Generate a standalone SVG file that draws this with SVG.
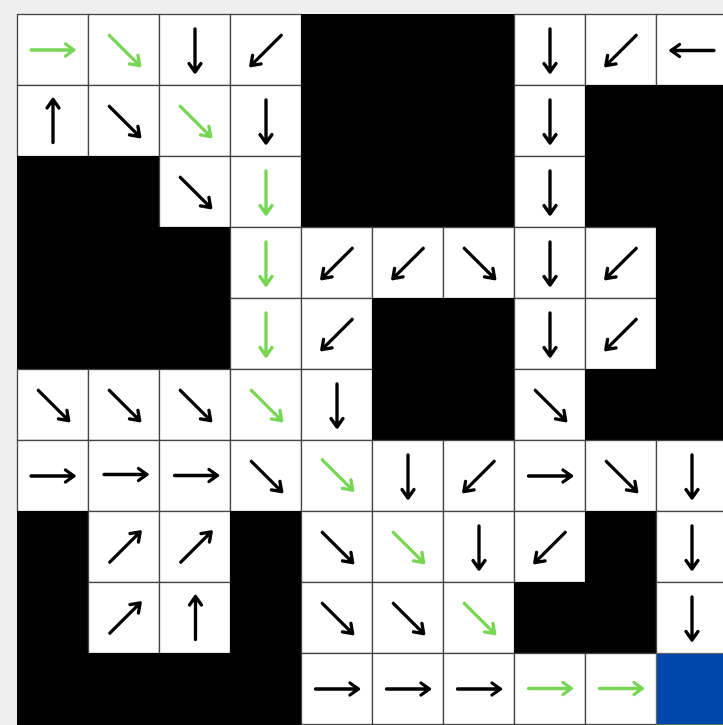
<svg xmlns="http://www.w3.org/2000/svg" xmlns:xlink="http://www.w3.org/1999/xlink" width="723" height="725" viewBox="0 0 723 725">
<style>
.w{fill:#fff;stroke:#444;stroke-width:1.3}
.b{fill:#000;stroke:#000;stroke-width:1}
.t{fill:#0047ab;stroke:#666;stroke-width:1}
.k{stroke:#000;fill:none;stroke-width:3.3;stroke-linecap:round;stroke-linejoin:round}
.g{stroke:#78d655;fill:none;stroke-width:3.3;stroke-linecap:round;stroke-linejoin:round}
</style>
<defs>
<path id="a" d="M-21.5 0H21.5M13 -6L21.5 0L13 6"/>
</defs>
<rect x="0" y="0" width="723" height="725" fill="#efefef"/>
<g id="grid">
<!-- Row 0 -->
<g id="c00" transform="translate(17.5 14.5)"><rect class="w" width="71" height="71"/><use href="#a" class="g" transform="translate(35 35.5) rotate(0)"/></g>
<g id="c01" transform="translate(88.5 14.5)"><rect class="w" width="71" height="71"/><use href="#a" class="g" transform="translate(36 36) rotate(45)"/></g>
<g id="c02" transform="translate(159.5 14.5)"><rect class="w" width="71" height="71"/><use href="#a" class="k" transform="translate(35.5 36) rotate(90)"/></g>
<g id="c03" transform="translate(230.5 14.5)"><rect class="w" width="71" height="71"/><use href="#a" class="k" transform="translate(35.5 36) rotate(135)"/></g>
<g id="c04" transform="translate(301.5 14.5)"><rect class="b" width="71" height="71"/></g>
<g id="c05" transform="translate(372.5 14.5)"><rect class="b" width="71" height="71"/></g>
<g id="c06" transform="translate(443.5 14.5)"><rect class="b" width="71" height="71"/></g>
<g id="c07" transform="translate(514.5 14.5)"><rect class="w" width="71" height="71"/><use href="#a" class="k" transform="translate(35.5 36) rotate(90)"/></g>
<g id="c08" transform="translate(585.5 14.5)"><rect class="w" width="71" height="71"/><use href="#a" class="k" transform="translate(35.5 36) rotate(135)"/></g>
<g id="c09" transform="translate(656.5 14.5)"><rect class="w" width="71" height="71"/><use href="#a" class="k" transform="translate(36 36) rotate(180)"/></g>
<!-- Row 1 -->
<g id="c10" transform="translate(17.5 85.5)"><rect class="w" width="71" height="71"/><use href="#a" class="k" transform="translate(35.5 35.5) rotate(270)"/></g>
<g id="c11" transform="translate(88.5 85.5)"><rect class="w" width="71" height="71"/><use href="#a" class="k" transform="translate(36 36) rotate(45)"/></g>
<g id="c12" transform="translate(159.5 85.5)"><rect class="w" width="71" height="71"/><use href="#a" class="g" transform="translate(36 36) rotate(45)"/></g>
<g id="c13" transform="translate(230.5 85.5)"><rect class="w" width="71" height="71"/><use href="#a" class="k" transform="translate(35.5 36) rotate(90)"/></g>
<g id="c14" transform="translate(301.5 85.5)"><rect class="b" width="71" height="71"/></g>
<g id="c15" transform="translate(372.5 85.5)"><rect class="b" width="71" height="71"/></g>
<g id="c16" transform="translate(443.5 85.5)"><rect class="b" width="71" height="71"/></g>
<g id="c17" transform="translate(514.5 85.5)"><rect class="w" width="71" height="71"/><use href="#a" class="k" transform="translate(35.5 36) rotate(90)"/></g>
<g id="c18" transform="translate(585.5 85.5)"><rect class="b" width="71" height="71"/></g>
<g id="c19" transform="translate(656.5 85.5)"><rect class="b" width="71" height="71"/></g>
<!-- Row 2 -->
<g id="c20" transform="translate(17.5 156.5)"><rect class="b" width="71" height="71"/></g>
<g id="c21" transform="translate(88.5 156.5)"><rect class="b" width="71" height="71"/></g>
<g id="c22" transform="translate(159.5 156.5)"><rect class="w" width="71" height="71"/><use href="#a" class="k" transform="translate(36 36) rotate(45)"/></g>
<g id="c23" transform="translate(230.5 156.5)"><rect class="w" width="71" height="71"/><use href="#a" class="g" transform="translate(35.5 36) rotate(90)"/></g>
<g id="c24" transform="translate(301.5 156.5)"><rect class="b" width="71" height="71"/></g>
<g id="c25" transform="translate(372.5 156.5)"><rect class="b" width="71" height="71"/></g>
<g id="c26" transform="translate(443.5 156.5)"><rect class="b" width="71" height="71"/></g>
<g id="c27" transform="translate(514.5 156.5)"><rect class="w" width="71" height="71"/><use href="#a" class="k" transform="translate(35.5 36) rotate(90)"/></g>
<g id="c28" transform="translate(585.5 156.5)"><rect class="b" width="71" height="71"/></g>
<g id="c29" transform="translate(656.5 156.5)"><rect class="b" width="71" height="71"/></g>
<!-- Row 3 -->
<g id="c30" transform="translate(17.5 227.5)"><rect class="b" width="71" height="71"/></g>
<g id="c31" transform="translate(88.5 227.5)"><rect class="b" width="71" height="71"/></g>
<g id="c32" transform="translate(159.5 227.5)"><rect class="b" width="71" height="71"/></g>
<g id="c33" transform="translate(230.5 227.5)"><rect class="w" width="71" height="71"/><use href="#a" class="g" transform="translate(35.5 36) rotate(90)"/></g>
<g id="c34" transform="translate(301.5 227.5)"><rect class="w" width="71" height="71"/><use href="#a" class="k" transform="translate(35.5 36) rotate(135)"/></g>
<g id="c35" transform="translate(372.5 227.5)"><rect class="w" width="71" height="71"/><use href="#a" class="k" transform="translate(35.5 36) rotate(135)"/></g>
<g id="c36" transform="translate(443.5 227.5)"><rect class="w" width="71" height="71"/><use href="#a" class="k" transform="translate(36 36) rotate(45)"/></g>
<g id="c37" transform="translate(514.5 227.5)"><rect class="w" width="71" height="71"/><use href="#a" class="k" transform="translate(35.5 36) rotate(90)"/></g>
<g id="c38" transform="translate(585.5 227.5)"><rect class="w" width="71" height="71"/><use href="#a" class="k" transform="translate(35.5 36) rotate(135)"/></g>
<g id="c39" transform="translate(656.5 227.5)"><rect class="b" width="71" height="71"/></g>
<!-- Row 4 -->
<g id="c40" transform="translate(17.5 298.5)"><rect class="b" width="71" height="71"/></g>
<g id="c41" transform="translate(88.5 298.5)"><rect class="b" width="71" height="71"/></g>
<g id="c42" transform="translate(159.5 298.5)"><rect class="b" width="71" height="71"/></g>
<g id="c43" transform="translate(230.5 298.5)"><rect class="w" width="71" height="71"/><use href="#a" class="g" transform="translate(35.5 36) rotate(90)"/></g>
<g id="c44" transform="translate(301.5 298.5)"><rect class="w" width="71" height="71"/><use href="#a" class="k" transform="translate(35.5 36) rotate(135)"/></g>
<g id="c45" transform="translate(372.5 298.5)"><rect class="b" width="71" height="71"/></g>
<g id="c46" transform="translate(443.5 298.5)"><rect class="b" width="71" height="71"/></g>
<g id="c47" transform="translate(514.5 298.5)"><rect class="w" width="71" height="71"/><use href="#a" class="k" transform="translate(35.5 36) rotate(90)"/></g>
<g id="c48" transform="translate(585.5 298.5)"><rect class="w" width="71" height="71"/><use href="#a" class="k" transform="translate(35.5 36) rotate(135)"/></g>
<g id="c49" transform="translate(656.5 298.5)"><rect class="b" width="71" height="71"/></g>
<!-- Row 5 -->
<g id="c50" transform="translate(17.5 369.5)"><rect class="w" width="71" height="71"/><use href="#a" class="k" transform="translate(36 36) rotate(45)"/></g>
<g id="c51" transform="translate(88.5 369.5)"><rect class="w" width="71" height="71"/><use href="#a" class="k" transform="translate(36 36) rotate(45)"/></g>
<g id="c52" transform="translate(159.5 369.5)"><rect class="w" width="71" height="71"/><use href="#a" class="k" transform="translate(36 36) rotate(45)"/></g>
<g id="c53" transform="translate(230.5 369.5)"><rect class="w" width="71" height="71"/><use href="#a" class="g" transform="translate(36 36) rotate(45)"/></g>
<g id="c54" transform="translate(301.5 369.5)"><rect class="w" width="71" height="71"/><use href="#a" class="k" transform="translate(35.5 36) rotate(90)"/></g>
<g id="c55" transform="translate(372.5 369.5)"><rect class="b" width="71" height="71"/></g>
<g id="c56" transform="translate(443.5 369.5)"><rect class="b" width="71" height="71"/></g>
<g id="c57" transform="translate(514.5 369.5)"><rect class="w" width="71" height="71"/><use href="#a" class="k" transform="translate(36 36) rotate(45)"/></g>
<g id="c58" transform="translate(585.5 369.5)"><rect class="b" width="71" height="71"/></g>
<g id="c59" transform="translate(656.5 369.5)"><rect class="b" width="71" height="71"/></g>
<!-- Row 6 -->
<g id="c60" transform="translate(17.5 440.5)"><rect class="w" width="71" height="71"/><use href="#a" class="k" transform="translate(35 35.5) rotate(0)"/></g>
<g id="c61" transform="translate(88.5 440.5)"><rect class="w" width="71" height="71"/><use href="#a" class="k" transform="translate(37 34) rotate(0)"/></g>
<g id="c62" transform="translate(159.5 440.5)"><rect class="w" width="71" height="71"/><use href="#a" class="k" transform="translate(36.5 35) rotate(0)"/></g>
<g id="c63" transform="translate(230.5 440.5)"><rect class="w" width="71" height="71"/><use href="#a" class="k" transform="translate(36 36) rotate(45)"/></g>
<g id="c64" transform="translate(301.5 440.5)"><rect class="w" width="71" height="71"/><use href="#a" class="g" transform="translate(36 34.5) rotate(45)"/></g>
<g id="c65" transform="translate(372.5 440.5)"><rect class="w" width="71" height="71"/><use href="#a" class="k" transform="translate(35.5 36) rotate(90)"/></g>
<g id="c66" transform="translate(443.5 440.5)"><rect class="w" width="71" height="71"/><use href="#a" class="k" transform="translate(35.5 36) rotate(135)"/></g>
<g id="c67" transform="translate(514.5 440.5)"><rect class="w" width="71" height="71"/><use href="#a" class="k" transform="translate(35.5 35.5) rotate(0)"/></g>
<g id="c68" transform="translate(585.5 440.5)"><rect class="w" width="71" height="71"/><use href="#a" class="k" transform="translate(36 36) rotate(45)"/></g>
<g id="c69" transform="translate(656.5 440.5)"><rect class="w" width="71" height="71"/><use href="#a" class="k" transform="translate(35.5 36) rotate(90)"/></g>
<!-- Row 7 -->
<g id="c70" transform="translate(17.5 511.5)"><rect class="b" width="71" height="71"/></g>
<g id="c71" transform="translate(88.5 511.5)"><rect class="w" width="71" height="71"/><use href="#a" class="k" transform="translate(36.5 35.5) rotate(315)"/></g>
<g id="c72" transform="translate(159.5 511.5)"><rect class="w" width="71" height="71"/><use href="#a" class="k" transform="translate(36.5 35.5) rotate(315)"/></g>
<g id="c73" transform="translate(230.5 511.5)"><rect class="b" width="71" height="71"/></g>
<g id="c74" transform="translate(301.5 511.5)"><rect class="w" width="71" height="71"/><use href="#a" class="k" transform="translate(36 36) rotate(45)"/></g>
<g id="c75" transform="translate(372.5 511.5)"><rect class="w" width="71" height="71"/><use href="#a" class="g" transform="translate(36 36) rotate(45)"/></g>
<g id="c76" transform="translate(443.5 511.5)"><rect class="w" width="71" height="71"/><use href="#a" class="k" transform="translate(35.5 36) rotate(90)"/></g>
<g id="c77" transform="translate(514.5 511.5)"><rect class="w" width="71" height="71"/><use href="#a" class="k" transform="translate(35.5 36) rotate(135)"/></g>
<g id="c78" transform="translate(585.5 511.5)"><rect class="b" width="71" height="71"/></g>
<g id="c79" transform="translate(656.5 511.5)"><rect class="w" width="71" height="71"/><use href="#a" class="k" transform="translate(35.5 36) rotate(90)"/></g>
<!-- Row 8 -->
<g id="c80" transform="translate(17.5 582.5)"><rect class="b" width="71" height="71"/></g>
<g id="c81" transform="translate(88.5 582.5)"><rect class="w" width="71" height="71"/><use href="#a" class="k" transform="translate(36.5 35.5) rotate(315)"/></g>
<g id="c82" transform="translate(159.5 582.5)"><rect class="w" width="71" height="71"/><use href="#a" class="k" transform="translate(36 35.5) rotate(270)"/></g>
<g id="c83" transform="translate(230.5 582.5)"><rect class="b" width="71" height="71"/></g>
<g id="c84" transform="translate(301.5 582.5)"><rect class="w" width="71" height="71"/><use href="#a" class="k" transform="translate(36 36) rotate(45)"/></g>
<g id="c85" transform="translate(372.5 582.5)"><rect class="w" width="71" height="71"/><use href="#a" class="k" transform="translate(36 36) rotate(45)"/></g>
<g id="c86" transform="translate(443.5 582.5)"><rect class="w" width="71" height="71"/><use href="#a" class="g" transform="translate(36 36) rotate(45)"/></g>
<g id="c87" transform="translate(514.5 582.5)"><rect class="b" width="71" height="71"/></g>
<g id="c88" transform="translate(585.5 582.5)"><rect class="b" width="71" height="71"/></g>
<g id="c89" transform="translate(656.5 582.5)"><rect class="w" width="71" height="71"/><use href="#a" class="k" transform="translate(35.5 36) rotate(90)"/></g>
<!-- Row 9 -->
<g id="c90" transform="translate(17.5 653.5)"><rect class="b" width="71" height="71"/></g>
<g id="c91" transform="translate(88.5 653.5)"><rect class="b" width="71" height="71"/></g>
<g id="c92" transform="translate(159.5 653.5)"><rect class="b" width="71" height="71"/></g>
<g id="c93" transform="translate(230.5 653.5)"><rect class="b" width="71" height="71"/></g>
<g id="c94" transform="translate(301.5 653.5)"><rect class="w" width="71" height="71"/><use href="#a" class="k" transform="translate(35.5 35.5) rotate(0)"/></g>
<g id="c95" transform="translate(372.5 653.5)"><rect class="w" width="71" height="71"/><use href="#a" class="k" transform="translate(35.5 35.5) rotate(0)"/></g>
<g id="c96" transform="translate(443.5 653.5)"><rect class="w" width="71" height="71"/><use href="#a" class="k" transform="translate(35.5 35.5) rotate(0)"/></g>
<g id="c97" transform="translate(514.5 653.5)"><rect class="w" width="71" height="71"/><use href="#a" class="g" transform="translate(35.5 35) rotate(0)"/></g>
<g id="c98" transform="translate(585.5 653.5)"><rect class="w" width="71" height="71"/><use href="#a" class="g" transform="translate(35.5 35) rotate(0)"/></g>
<g id="c99" transform="translate(656.5 653.5)"><rect class="t" width="71" height="71"/></g>
</g>
<g id="connectors"></g>
</svg>
